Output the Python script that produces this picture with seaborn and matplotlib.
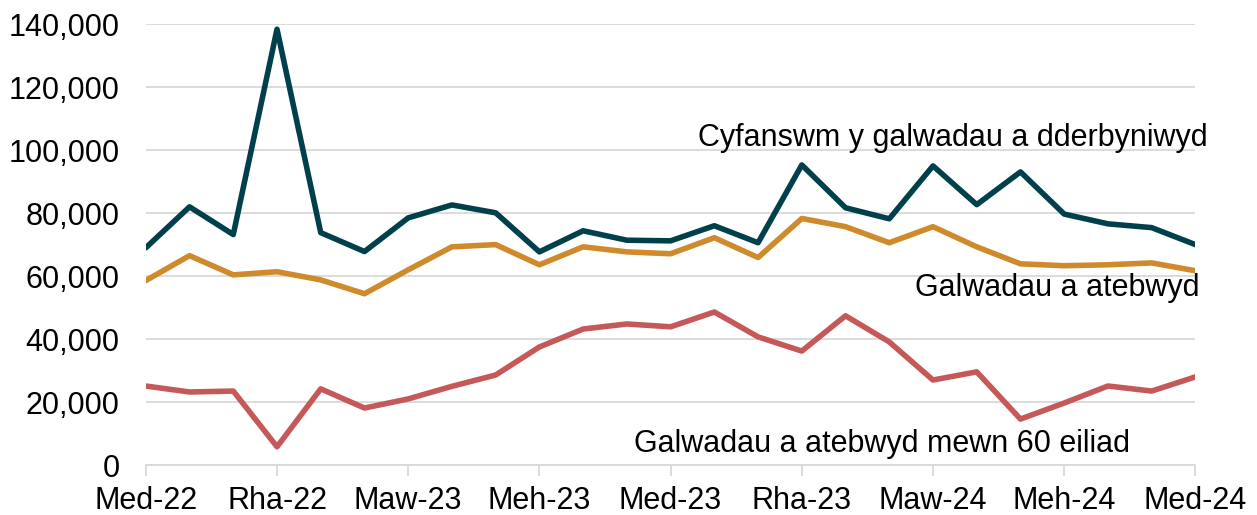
import pandas as pd
import seaborn as sns
import matplotlib.pyplot as plt
from matplotlib.ticker import FuncFormatter

sns.set_theme(style="white")
plt.rcParams['font.family'] = ['Liberation Sans', 'DejaVu Sans']

months = ['Med-22', 'Hyd-22', 'Tach-22', 'Rha-22', 'Ion-23', 'Chwe-23', 'Maw-23', 'Ebr-23',
          'Mai-23', 'Meh-23', 'Gor-23', 'Aws-23', 'Med-23', 'Hyd-23', 'Tach-23', 'Rha-23',
          'Ion-24', 'Chwe-24', 'Maw-24', 'Ebr-24', 'Mai-24', 'Meh-24', 'Gor-24', 'Aws-24',
          'Med-24']

total = [69000, 82000, 73200, 138400, 73800, 67800, 78500, 82600, 80100, 67700, 74400, 71400,
         71200, 76000, 70600, 95300, 81700, 78200, 95000, 82700, 93100, 79700, 76600, 75400,
         70000]
answered = [58600, 66500, 60400, 61400, 58800, 54400, 62000, 69300, 70000, 63600, 69300, 67700,
            67100, 72200, 65900, 78300, 75700, 70600, 75700, 69300, 63900, 63300, 63600, 64200,
            61700]
within_60 = [25100, 23200, 23500, 5800, 24200, 18100, 21000, 25000, 28600, 37500, 43200, 44800,
             43900, 48600, 40700, 36200, 47400, 39100, 27000, 29600, 14600, 19700, 25100, 23500,
             28000]

series_names = ['Cyfanswm y galwadau a dderbyniwyd', 'Galwadau a atebwyd',
                'Galwadau a atebwyd mewn 60 eiliad']
colors = ['#00404B', '#CF8A2B', '#C55858']

df = pd.DataFrame({'idx': list(range(len(months))) * 3,
                   'value': total + answered + within_60,
                   'series': [s for s in series_names for _ in months]})

fig = plt.figure(figsize=(12.57, 5.15), dpi=100)
ax = fig.add_axes([0.116, 0.097, 0.835, 0.856])

sns.lineplot(data=df, x='idx', y='value', hue='series', palette=colors,
             linewidth=4.0, legend=False, ax=ax)

ax.set_xlim(0, len(months) - 1)
ax.set_ylim(0, 140000)
ax.set_yticks(range(0, 140001, 20000))
ax.yaxis.set_major_formatter(FuncFormatter(lambda v, p: f'{int(v):,}'))
ax.set_xticks(range(0, len(months), 3))
ax.set_xticklabels(months[::3])
ax.grid(axis='y', color='#D9D9D9', linewidth=1.3)
ax.set_axisbelow(True)
for s in ['top', 'right', 'left']:
    ax.spines[s].set_visible(False)
ax.spines['bottom'].set_color('#D9D9D9')
ax.spines['bottom'].set_linewidth(1.3)
ax.tick_params(axis='x', which='major', length=8, width=1.3, color='#D9D9D9',
               bottom=True, pad=7, labelsize=22, labelcolor='black')
ax.tick_params(axis='y', length=0, pad=19, labelsize=22, labelcolor='black')
ax.set_xlabel('')
ax.set_ylabel('')

ax.text(24.27, 104000, series_names[0], ha='right', va='center', fontsize=22, color='black')
ax.text(24.1, 56300, series_names[1], ha='right', va='center', fontsize=22, color='black')
ax.text(22.5, 6800, series_names[2], ha='right', va='center', fontsize=22, color='black')

fig.savefig('out.png', dpi=100)
